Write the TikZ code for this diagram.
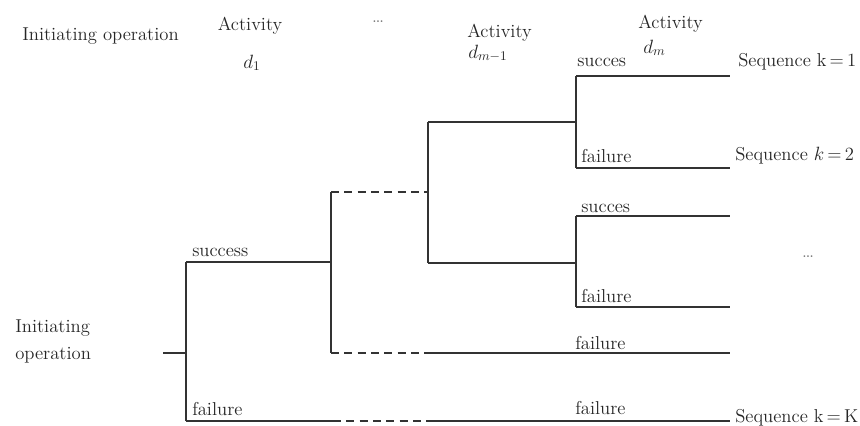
\documentclass[tikz,border=0pt]{standalone}
\usepackage{amsmath}
\usepackage{amssymb}

\begin{document}
\begin{tikzpicture}[x=0.75pt,y=-0.75pt,
	branch/.style={line width=0.9pt,color=black!80},
	gapline/.style={branch,dash pattern=on 6pt off 4pt},
	lbl/.style={inner sep=0pt,anchor=base west,text=black!85,font=\fontsize{14}{16}\selectfont},
	dotsl/.style={inner sep=0pt,anchor=base,text=black!55,font=\fontsize{16}{18}\selectfont}]
	\useasboundingbox (0,0) rectangle (860,425);

	% column headings
	\node[lbl] (inittop) at (22,40) {Initiating operation};
	\node[lbl,anchor=base] (act1) at (250,30) {Activity};
	\node[lbl,anchor=base] (d1) at (252,68) {$d_1$};
	\node[dotsl] (hdots) at (378,22) {\dots};
	\node[lbl] (actm1) at (467,37) {Activity};
	\node[lbl] (dm1) at (468,58) {$d_{m-1}$};
	\node[lbl] (actm) at (638,28) {Activity};
	\node[lbl] (dm) at (643,53) {$d_m$};

	% branch points
	\coordinate (root) at (163,353);
	\coordinate (n0) at (186,353);
	\coordinate (n0s) at (186,262);
	\coordinate (n0f) at (186,421);
	\coordinate (a) at (331,262);
	\coordinate (a1) at (331,192);
	\coordinate (a2) at (331,353);
	\coordinate (b1) at (428,192);
	\coordinate (bt) at (428,122);
	\coordinate (bb) at (428,263);
	\coordinate (c) at (576,122);
	\coordinate (c1) at (576,76);
	\coordinate (c2) at (576,168);
	\coordinate (e) at (576,263);
	\coordinate (e1) at (576,216);
	\coordinate (e2) at (576,307);
	\coordinate (end1) at (730,76);
	\coordinate (end2) at (730,168);
	\coordinate (end3) at (730,216);
	\coordinate (end4) at (730,307);
	\coordinate (m1) at (428,353);
	\coordinate (end5) at (730,353);
	\coordinate (f1) at (333,421);
	\coordinate (f2) at (428,421);
	\coordinate (end6) at (730,421);

	% tree
	\draw[branch] (root) -- (n0);
	\draw[branch] (n0s) -- (n0f);
	\draw[branch] (n0s) -- (a);
	\draw[branch] (a1) -- (a2);
	\draw[gapline] (a1) -- (b1);
	\draw[branch] (bt) -- (bb);
	\draw[branch] (bt) -- (c);
	\draw[branch] (bb) -- (e);
	\draw[branch] (c1) -- (c2);
	\draw[branch] (c1) -- (end1);
	\draw[branch] (c2) -- (end2);
	\draw[branch] (e1) -- (e2);
	\draw[branch] (e1) -- (end3);
	\draw[branch] (e2) -- (end4);
	\draw[gapline] (a2) -- (m1);
	\draw[branch] (m1) -- (end5);
	\draw[branch] (n0f) -- (f1);
	\draw[gapline] (f1) -- (f2);
	\draw[branch] (f2) -- (end6);

	% branch labels
	\node[lbl] (initl1) at (15,332) {Initiating};
	\node[lbl] (initl2) at (15,359) {operation};
	\node[lbl] (succ0) at (192,256) {success};
	\node[lbl] (fail0) at (192,415) {failure};
	\node[lbl] (succ1) at (577,66) {succes};
	\node[lbl] (fail1) at (581,162) {failure};
	\node[lbl] (succ2) at (581,212) {succes};
	\node[lbl] (fail2) at (581,302) {failure};
	\node[lbl] (fail3) at (575,349) {failure};
	\node[lbl] (fail4) at (575,414) {failure};

	% sequences
	\node[lbl] (seq1) at (738,66) {Sequence k\,=\,1};
	\node[lbl] (seq2) at (735,160) {Sequence $k$\,=\,2};
	\node[dotsl] (sdots) at (808,257) {\dots};
	\node[lbl] (seqK) at (735,422) {Sequence k\,=\,K};
\end{tikzpicture}
\end{document}
